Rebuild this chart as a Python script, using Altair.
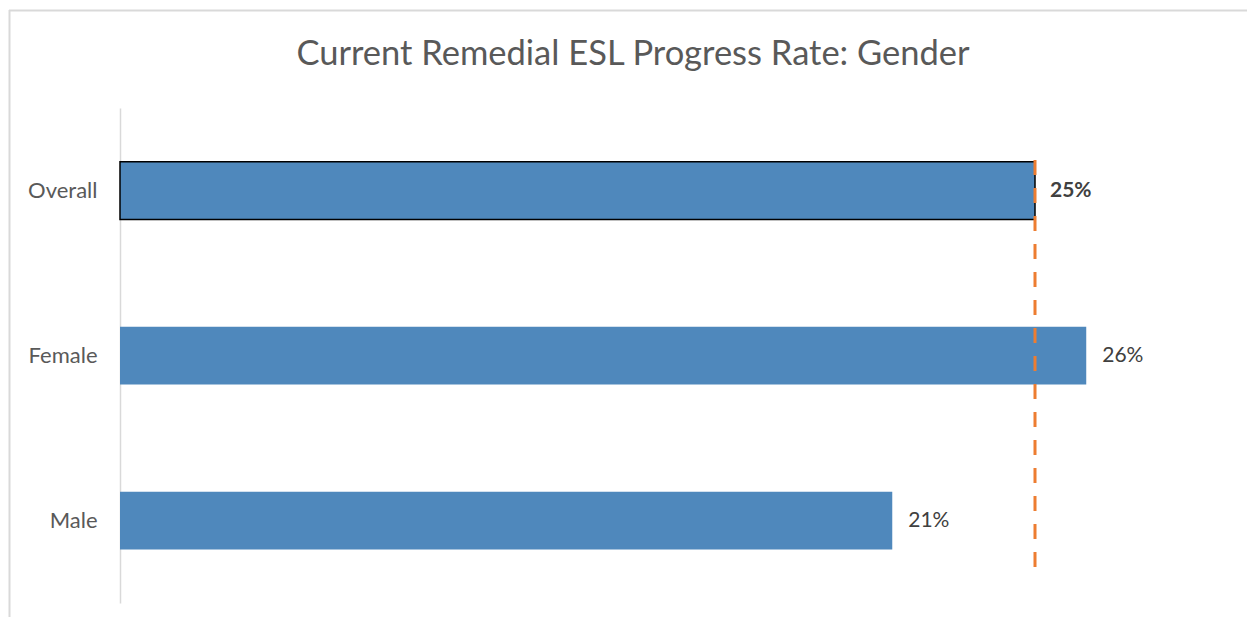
import altair as alt
import pandas as pd

title_text = "Current Remedial ESL Progress Rate: Gender"
categories = ["Overall", "Female", "Male"]
rates = [0.25, 0.264, 0.211]
rate_labels = ["25%", "26%", "21%"]
average_rate = 0.25

df = pd.DataFrame({"category": categories, "rate": rates, "label": rate_labels})
avg_df = pd.DataFrame({"avg": [average_rate], "title": [title_text]})

FONT = "Lato"

y_enc = alt.Y(
    "category:N",
    sort=categories,
    scale=alt.Scale(paddingInner=0.65, paddingOuter=0.325),
    axis=alt.Axis(
        title=None, ticks=False, domainColor="#d9d9d9", domainWidth=1.5,
        labelColor="#595959", labelFontSize=22, labelFont=FONT, labelPadding=23,
    ),
)
x_enc = alt.X("rate:Q", scale=alt.Scale(domain=[0, 0.3]), axis=None)

base = alt.Chart(df)

bars = base.mark_bar(color="#4F88BC", stroke="black").encode(
    x=x_enc,
    y=y_enc,
    strokeWidth=alt.condition(alt.datum.category == "Overall", alt.value(1.5), alt.value(0)),
)

labels_normal = base.transform_filter(alt.datum.category != "Overall").mark_text(
    align="left", baseline="middle", dx=16, fontSize=21, font=FONT, color="#404040"
).encode(x="rate:Q", y=alt.Y("category:N", sort=categories), text="label:N")

labels_bold = base.transform_filter(alt.datum.category == "Overall").mark_text(
    align="left", baseline="middle", dx=15, fontSize=21, font=FONT, color="#404040", fontWeight="bold"
).encode(x="rate:Q", y=alt.Y("category:N", sort=categories), text="label:N")

avg_rule = alt.Chart(avg_df).mark_rule(
    color="#ED7D31", strokeWidth=3, strokeDash=[15, 13]
).encode(x="avg:Q", y=alt.value(52), y2=alt.value(462))

border_top = alt.Chart(avg_df).mark_rule(color="#d9d9d9", strokeWidth=2).encode(
    x=alt.value(-111), x2=alt.value(1140), y=alt.value(-97.5)
)
border_left = alt.Chart(avg_df).mark_rule(color="#d9d9d9", strokeWidth=2).encode(
    x=alt.value(-110.5), y=alt.value(-98), y2=alt.value(530)
)

title_mark = alt.Chart(avg_df).mark_text(
    font=FONT, fontSize=34.5, color="#595959", align="center", baseline="middle"
).encode(text="title:N", x=alt.value(513), y=alt.value(-53))

chart = alt.layer(
    border_top, border_left, bars, avg_rule, labels_normal, labels_bold, title_mark
).properties(
    width=1098,
    height=495,
    background="white",
    autosize=alt.AutoSizeParams(type="none"),
    padding={"left": 112, "top": 100, "right": 29, "bottom": 14},
).configure_view(strokeWidth=0, stroke="transparent")

chart.save("out.html", embed_options={"renderer": "svg", "actions": False})
